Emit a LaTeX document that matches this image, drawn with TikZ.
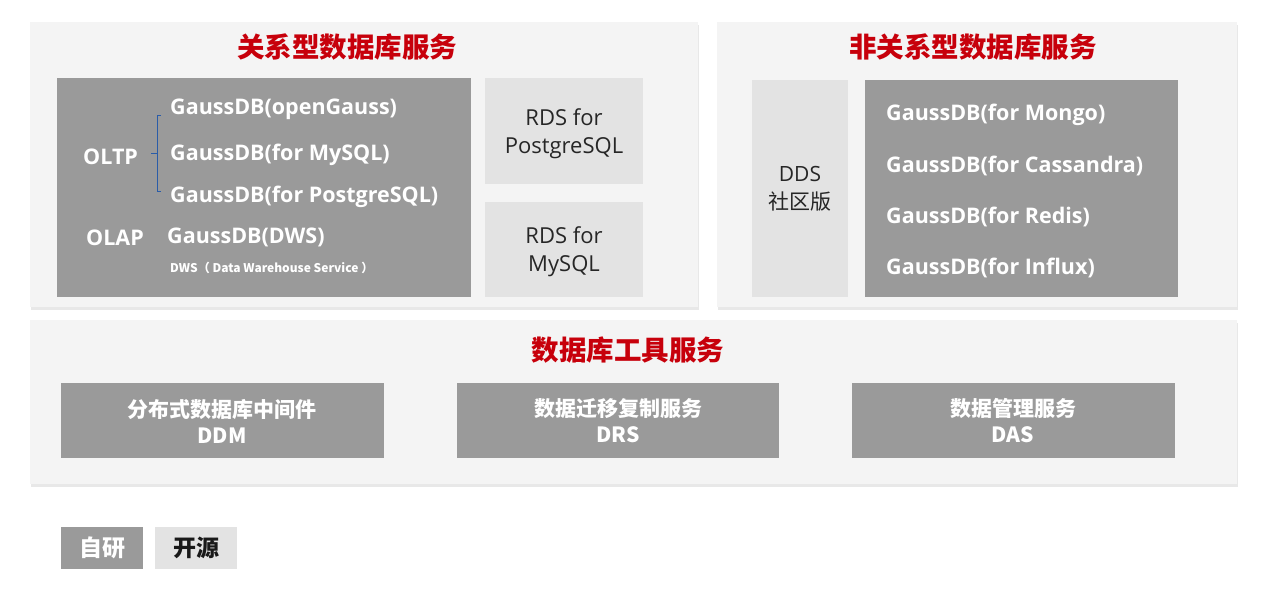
\documentclass[tikz,border=0pt]{standalone}
\usepackage{fontspec}
\setmainfont{Open Sans}
\newfontfamily\cjk{Noto Sans CJK SC}
\usetikzlibrary{shadows}
\definecolor{panelbg}{HTML}{F4F4F4}
\definecolor{owngray}{HTML}{9A9A9A}
\definecolor{opengray}{HTML}{E3E3E3}
\definecolor{hwred}{HTML}{C7000B}
\definecolor{brkblue}{HTML}{2A5CA8}

\begin{document}
\begin{tikzpicture}[x=1pt,y=-1pt,
    panel/.style={fill=panelbg,drop shadow={opacity=.18,shadow xshift=1pt,shadow yshift=-3pt}},
    own/.style={fill=owngray},
    open/.style={fill=opengray},
    title/.style={font=\cjk\bfseries\fontsize{27.5}{30}\selectfont,text=hwred},
    dbtext/.style={anchor=west,inner sep=2pt,text=white,font=\bfseries\fontsize{21.5}{24}\selectfont},
    rdstext/.style={align=center,text=black!85,font=\fontsize{22}{28}\selectfont},
    tooltext/.style={align=center,text=white,font=\cjk\bfseries\fontsize{21}{26}\selectfont},
    bracket/.style={draw=brkblue,line width=1pt}]
  \useasboundingbox (0,0) rectangle (1266,594);
  \fill[white] (0,0) rectangle (1266,594);

  % panels
  \fill[panel] (30,22) rectangle (698,307);
  \fill[panel] (717,22) rectangle (1237,307);
  \fill[panel] (30,320) rectangle (1237,484);

  % relational
  \node[title] (reltitle) at (347,47) {关系型数据库服务};
  \fill[own] (57,78) rectangle (471,297);
  \fill[open] (485,78) rectangle (643,184);
  \fill[open] (485,202) rectangle (643,297);
  \node[dbtext] (oltp) at (81,156.5) {OLTP};
  \node[dbtext] (og) at (168,109.5) {GaussDB(openGauss)};
  \node[dbtext] (mysql) at (168,154.5) {GaussDB(for MySQL)};
  \node[dbtext] (pg) at (168,196.5) {GaussDB(for PostgreSQL)};
  \node[dbtext] (olap) at (84,237.5) {OLAP};
  \node[dbtext] (dws) at (165,237.5) {GaussDB(DWS)};
  \node[dbtext,font=\cjk\bfseries\fontsize{12}{14}\selectfont] (dwsnote) at (168,268) {DWS（ Data Warehouse Service ）};
  \coordinate (btop) at (161,115);
  \coordinate (bbot) at (161,191);
  \coordinate (bmid) at (157,153);
  \draw[bracket] (btop) -- (btop -| bmid) -- (bbot -| bmid) -- (bbot);
  \draw[bracket] (bmid) -- (151,153);
  \node[rdstext] (rdspg) at (564,133.5) {RDS for\\PostgreSQL};
  \node[rdstext] (rdsmy) at (564,251.5) {RDS for\\MySQL};

  % non-relational
  \node[title] (nrtitle) at (973,47) {非关系型数据库服务};
  \fill[open] (752,80) rectangle (848,297);
  \fill[own] (865,80) rectangle (1178,297);
  \node[rdstext,font=\fontsize{21}{28}\selectfont] (dds) at (800,189) {DDS\\{\cjk 社区版}};
  \node[dbtext] (mongo) at (884,114.5) {GaussDB(for Mongo)};
  \node[dbtext] (cass) at (884,165.5) {GaussDB(for Cassandra)};
  \node[dbtext] (redis) at (884,216.5) {GaussDB(for Redis)};
  \node[dbtext] (influx) at (884,267.5) {GaussDB(for Influx)};

  % tools
  \node[title] (tooltitle) at (628,350) {数据库工具服务};
  \fill[own] (61,383) rectangle (384,458);
  \fill[own] (457,383) rectangle (779,458);
  \fill[own] (852,383) rectangle (1175,458);
  \node[tooltext] (ddm) at (222,421) {分布式数据库中间件\\DDM};
  \node[tooltext] (drs) at (618,421) {数据迁移复制服务\\DRS};
  \node[tooltext] (das) at (1013,421) {数据管理服务\\DAS};

  % legend
  \fill[own] (61,527) rectangle (143,569);
  \fill[open] (155,527) rectangle (237,569);
  \node[tooltext,font=\cjk\bfseries\fontsize{23}{26}\selectfont] (selfdev) at (102,548) {自研};
  \node[tooltext,text=black!90,font=\cjk\bfseries\fontsize{23}{26}\selectfont] (opensrc) at (196,548) {开源};
\end{tikzpicture}
\end{document}
